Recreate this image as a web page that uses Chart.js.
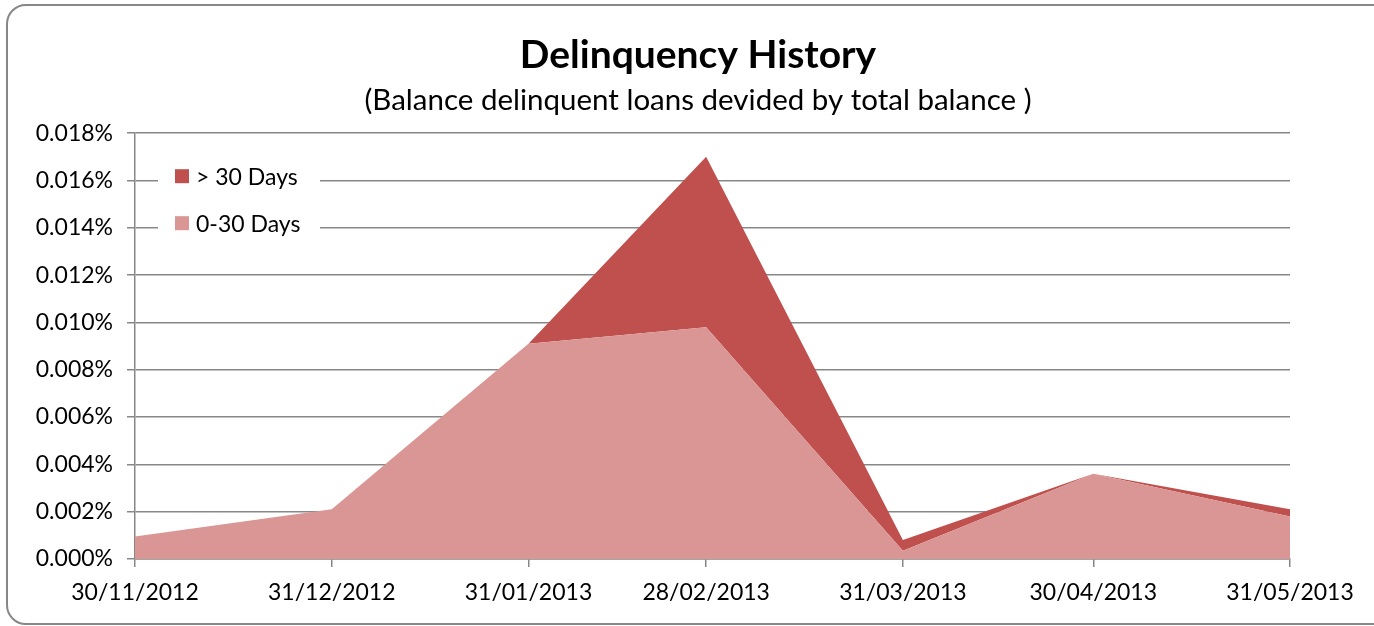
<!DOCTYPE html>
<html lang="en">
<head>
    <meta charset="UTF-8">
    <title>Delinquency History</title>
    <style>
        body { margin: 0; background: #fff; }
        .cadre {
            position: absolute; left: 6px; top: 4px;
            width: 1420px; height: 617px;
            border: 2px solid #878787; border-radius: 20px;
        }
        #delinquency-chart { position: absolute; left: 0; top: 0; }
    </style>
</head>
<body>
    <div class="cadre"></div>
    <canvas id="delinquency-chart" width="1374" height="626"></canvas>

    <script src="https://cdn.jsdelivr.net/npm/chart.js"></script>
    <script>
        // month-end dates, and days since the first one (Excel date axis)
        const dateLabels = ['30/11/2012', '31/12/2012', '31/01/2013', '28/02/2013', '31/03/2013', '30/04/2013', '31/05/2013'];
        const dayOffsets = [0, 31, 62, 90, 121, 151, 182];

        // values in percent of total balance
        const days0to30 = [0.00095, 0.0021, 0.0091, 0.0098, 0.00035, 0.0036, 0.0018];
        const daysOver30 = [0, 0, 0, 0.0072, 0.00045, 0, 0.0003];

        const yTicks = [0, 0.002, 0.004, 0.006, 0.008, 0.010, 0.012, 0.014, 0.016, 0.018];

        const gridGrey = '#878787';
        const font = 'Lato';

        function points(values) {
            return values.map((v, i) => ({ x: dayOffsets[i], y: v }));
        }

        // legend drawn inside the plot, on a white box, like the Excel one
        const insideLegend = {
            id: 'insideLegend',
            afterDraw(chart) {
                const ctx = chart.ctx;
                const area = chart.chartArea;
                const left = area.left + 23;
                const top = area.top + 26;
                ctx.save();
                ctx.fillStyle = '#fff';
                ctx.fillRect(left, top, 162, 82);
                ctx.font = '23px ' + font;
                ctx.textBaseline = 'middle';
                const items = chart.data.datasets.slice().reverse();
                items.forEach((ds, i) => {
                    const cy = top + 17 + i * 47;
                    ctx.fillStyle = ds.backgroundColor;
                    ctx.fillRect(left + 17, cy - 7, 14, 14);
                    ctx.fillStyle = '#000';
                    ctx.fillText(ds.label, left + 38, cy + 1);
                });
                ctx.restore();
            }
        };

        const ctx = document.getElementById('delinquency-chart').getContext('2d');
        window.delinquencyChart = new Chart(ctx, {
            type: 'line',
            data: {
                datasets: [
                    {
                        label: '0-30 Days',
                        data: points(days0to30),
                        backgroundColor: '#D99694',
                        borderWidth: 0,
                        pointRadius: 0,
                        fill: 'origin'
                    },
                    {
                        label: '> 30 Days',
                        data: points(daysOver30),
                        backgroundColor: '#C0504D',
                        borderWidth: 0,
                        pointRadius: 0,
                        fill: '-1'
                    }
                ]
            },
            options: {
                responsive: false,
                animation: false,
                devicePixelRatio: 1,
                layout: { padding: { left: 22, right: 0, top: 0, bottom: 0 } },
                plugins: {
                    legend: { display: false },
                    tooltip: { enabled: false },
                    title: {
                        display: true,
                        text: 'Delinquency History',
                        color: '#000',
                        font: { family: font, size: 39, weight: 'bold', lineHeight: 1.2 },
                        padding: { top: 32, bottom: 0 }
                    },
                    subtitle: {
                        display: true,
                        text: '(Balance delinquent loans devided by total balance )',
                        color: '#000',
                        font: { family: font, size: 29.5, lineHeight: 1.2 },
                        padding: { top: 4, bottom: 15 }
                    }
                },
                scales: {
                    x: {
                        type: 'linear',
                        min: dayOffsets[0],
                        max: dayOffsets[dayOffsets.length - 1],
                        afterBuildTicks: scale => {
                            scale.ticks = dayOffsets.map(d => ({ value: d }));
                        },
                        afterFit: scale => { scale.height = 67; },
                        ticks: {
                            color: '#000',
                            font: { family: font, size: 23 },
                            padding: 12,
                            maxRotation: 0,
                            callback: value => dateLabels[dayOffsets.indexOf(value)]
                        },
                        grid: {
                            drawOnChartArea: false,
                            color: gridGrey,
                            lineWidth: 1.5,
                            tickLength: 8
                        },
                        border: { color: gridGrey, width: 1.5 }
                    },
                    y: {
                        stacked: true,
                        min: 0,
                        max: 0.018,
                        afterBuildTicks: scale => {
                            scale.ticks = yTicks.map(v => ({ value: v }));
                        },
                        afterFit: scale => { scale.width = 113; },
                        ticks: {
                            color: '#000',
                            font: { family: font, size: 23 },
                            padding: 14,
                            callback: value => value.toFixed(3) + '%'
                        },
                        grid: {
                            color: gridGrey,
                            lineWidth: 1.5,
                            tickLength: 8
                        },
                        border: { color: gridGrey, width: 1.5 }
                    },
                    // empty right-hand margin, so the titles stay centred on the whole frame
                    marge: {
                        type: 'linear',
                        position: 'right',
                        afterFit: scale => { scale.width = 84; },
                        ticks: { display: false },
                        grid: { display: false },
                        border: { display: false }
                    }
                }
            },
            plugins: [insideLegend]
        });
    </script>
</body>
</html>
